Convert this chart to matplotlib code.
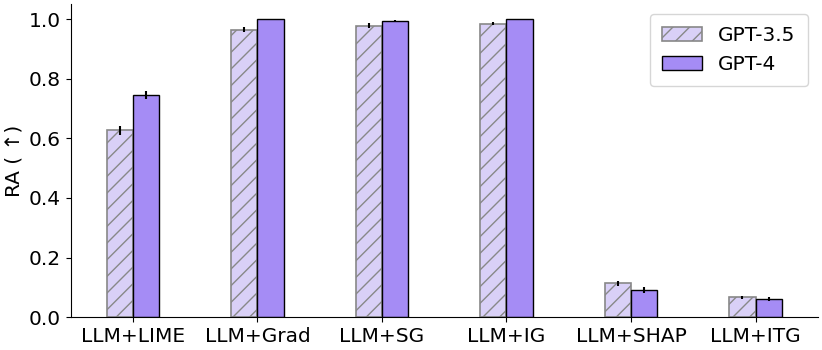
import matplotlib
matplotlib.use("Agg")
import matplotlib.pyplot as plt
import numpy as np

methods = ["LLM+LIME", "LLM+Grad", "LLM+SG", "LLM+IG", "LLM+SHAP", "LLM+ITG"]
gpt35 = [0.627, 0.965, 0.978, 0.985, 0.113, 0.066]
gpt35_err = [0.015, 0.010, 0.008, 0.006, 0.008, 0.006]
gpt4 = [0.745, 1.0, 0.995, 1.0, 0.090, 0.060]
gpt4_err = [0.013, 0.0, 0.003, 0.0, 0.010, 0.006]

plt.rcParams["hatch.color"] = "#888888"
plt.rcParams["hatch.linewidth"] = 1.0

fig, ax = plt.subplots(figsize=(8.22, 3.5), dpi=100)
x = np.arange(len(methods))
w = 0.21

ax.bar(x - w / 2, gpt35, w, yerr=gpt35_err, color="#d9d0f7", edgecolor="#888888",
       hatch="//", linewidth=1.2, label="GPT-3.5", error_kw=dict(lw=1.5, capsize=0))
ax.bar(x + w / 2, gpt4, w, yerr=gpt4_err, color="#a58cf5", edgecolor="black",
       linewidth=1.0, label="GPT-4", error_kw=dict(lw=1.5, capsize=0))

ax.set_xticks(x)
ax.set_xticklabels(methods, fontsize=14.5)
ax.tick_params(axis="y", labelsize=14.5)
ax.set_ylabel("RA ( \u2191)", fontsize=14.5)
ax.set_xlim(-0.5, 5.5)
ax.set_ylim(0, 1.05)
ax.spines["top"].set_visible(False)
ax.spines["right"].set_visible(False)
ax.legend(loc="upper right", fontsize=14.5, handlelength=2.0, borderpad=0.6)
fig.tight_layout(pad=0.3)
fig.savefig("out.png")
